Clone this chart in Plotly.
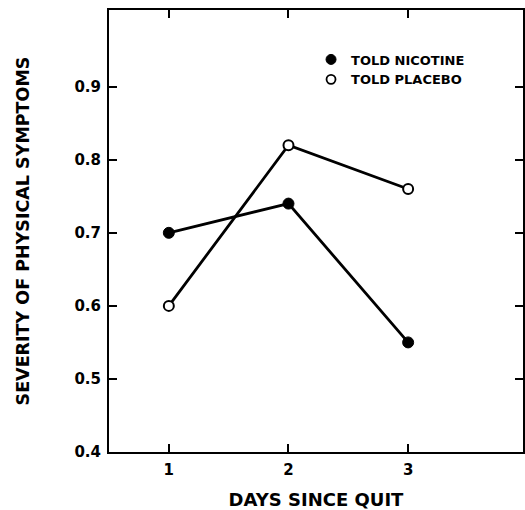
import plotly.graph_objects as go

days = [1, 2, 3]
told_nicotine = [0.70, 0.74, 0.55]
told_placebo = [0.60, 0.82, 0.76]
x_ticks = [1, 2, 3]
y_ticks = [0.4, 0.5, 0.6, 0.7, 0.8, 0.9]

FAM = "DejaVu Sans, Verdana, sans-serif"

fig = go.Figure()
fig.add_trace(go.Scatter(
    x=days, y=told_nicotine, mode="lines+markers", name="TOLD NICOTINE",
    line=dict(color="black", width=2.8), showlegend=False,
    marker=dict(symbol="circle", size=11, color="black", line=dict(color="black", width=1)),
))
fig.add_trace(go.Scatter(
    x=days, y=told_placebo, mode="lines+markers", name="TOLD PLACEBO",
    line=dict(color="black", width=2.8), showlegend=False,
    marker=dict(symbol="circle", size=10, color="white", line=dict(color="black", width=2)),
))
# legend keys (markers only, as in the reference)
fig.add_trace(go.Scatter(
    x=[None], y=[None], mode="markers", name="TOLD NICOTINE",
    marker=dict(symbol="circle", size=10, color="black", line=dict(color="black", width=1)),
))
fig.add_trace(go.Scatter(
    x=[None], y=[None], mode="markers", name="TOLD PLACEBO",
    marker=dict(symbol="circle", size=9, color="white", line=dict(color="black", width=1.8)),
))

fig.update_layout(
    width=525, height=510,
    margin=dict(l=109, r=2, t=10, b=58),
    paper_bgcolor="white", plot_bgcolor="white",
    font=dict(family=FAM, size=15, color="black", weight="bold"),
    showlegend=True,
    legend=dict(
        x=0.488, y=0.922, xanchor="left", yanchor="top",
        bgcolor="rgba(0,0,0,0)", borderwidth=0,
        font=dict(family=FAM, size=13, color="black", weight="bold"),
        tracegroupgap=0, itemwidth=30,
    ),
    xaxis=dict(
        range=[0.5, 3.96], tickvals=x_ticks, ticktext=[str(v) for v in x_ticks],
        ticks="inside", ticklen=8, tickwidth=2, tickcolor="black",
        showline=True, linecolor="black", linewidth=2, mirror="ticks",
        showgrid=False, zeroline=False, automargin=False,
        ticklabelstandoff=3,
        title=dict(text="DAYS SINCE QUIT", standoff=17, font=dict(size=18)),
    ),
    yaxis=dict(
        range=[0.4, 1.005], tickvals=y_ticks, ticktext=[f"{v:.1f}" for v in y_ticks],
        ticks="inside", ticklen=8, tickwidth=2, tickcolor="black",
        showline=True, linecolor="black", linewidth=2, mirror="ticks",
        showgrid=False, zeroline=False, automargin=False,
        ticklabelstandoff=3,
        title=dict(text="SEVERITY OF PHYSICAL SYMPTOMS", standoff=40, font=dict(size=17.5)),
    ),
)

post = (
    "document.body.style.margin='0';"
    "var gd=document.getElementById('{plot_id}');"
    "Plotly.relayout(gd,{width:525,height:510});"
)
fig.write_html("out.html", post_script=post,
               config={"responsive": False, "displayModeBar": False})
